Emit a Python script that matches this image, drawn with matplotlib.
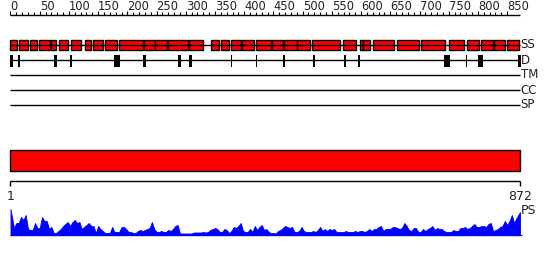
import numpy as np
import matplotlib.pyplot as plt

seq_len = 872

# secondary structure blocks (residue start / end)
ss_start = [1, 15, 35, 50, 71, 84, 104, 128, 143, 162, 187, 229, 249, 271, 307,
            344, 361, 379, 398, 422, 448, 469, 492, 517, 570, 599, 604, 622, 662,
            704, 752, 782, 807, 828, 851]
ss_end = [11, 30, 45, 68, 78, 99, 121, 138, 158, 182, 226, 248, 268, 304, 330,
          357, 374, 394, 416, 445, 466, 490, 512, 564, 591, 603, 616, 657, 699,
          744, 777, 802, 826, 846, 870]

# disorder marks
dis_start = [1, 13, 76, 102, 178, 228, 288, 307, 378, 421, 468, 518, 571, 595, 743, 780, 801, 869]
dis_end = [3, 15, 78, 104, 186, 230, 290, 309, 378, 421, 468, 520, 573, 597, 750, 780, 807, 872]

track_names = ['SS', 'D', 'TM', 'CC', 'SP']

# PS profile, one value every 4 residues
ps_score = [26, 7, 12, 12, 18, 15, 20, 6, 5, 5,
            12, 7, 7, 18, 14, 14, 6, 8, 2, 2,
            4, 6, 9, 11, 13, 9, 13, 15, 12, 13,
            6, 8, 10, 12, 9, 9, 2, 9, 6, 4,
            2, 2, 2, 8, 3, 3, 3, 8, 8, 6,
            3, 3, 2, 2, 4, 5, 4, 5, 6, 7,
            13, 6, 3, 3, 4, 3, 3, 5, 4, 6,
            9, 10, 1.5, 1.5, 1.5, 1.5, 1.5, 1.5, 2.5, 2.5,
            2.5, 2.5, 3, 2.5, 3, 5, 6, 7, 6, 3,
            3, 6, 5, 2, 4, 8, 7, 9, 12, 4,
            3, 3, 6, 3, 9, 5, 8, 10, 5, 6,
            3, 2, 2,
            1.5, 4, 5, 7, 9, 8, 7, 8, 3, 3,
            4, 8, 4, 3, 3, 3, 4, 3, 5, 8,
            4, 6, 4, 6, 5, 6, 3, 3, 3, 3,
            4, 3, 3, 3, 4, 3, 4, 4, 3, 4,
            6, 4, 6, 6, 8, 9, 4, 6, 6, 6,
            8, 8, 7, 6, 7, 12, 9, 5, 4, 7,
            7, 3, 3, 6, 4, 6, 7, 9, 5, 7,
            6, 6, 4, 3, 3, 3, 5, 4, 4, 7,
            7, 8, 6, 7, 9, 11, 8, 8, 9, 9,
            8, 11, 12, 4, 5, 6, 8, 9, 14, 10,
            14, 20, 12, 17, 23]

fig = plt.figure(figsize=(5.5, 2.6), dpi=100)
ax = fig.add_axes([0, 0, 1, 1])
scale = 509.5 / seq_len
ax.set_xlim(-10.5 / scale, 539.5 / scale)
ax.set_ylim(260, 0)
ax.axis('off')

txt = '#222222'

# ruler
ax.hlines(15, 0, seq_len, color='black', lw=1)
for v in range(0, 851, 10):
    top = 11 if v % 50 == 0 else 12
    ax.vlines(v, top, 15, color='black', lw=0.8)
for v in range(0, 851, 50):
    ax.text(v, 12.5, str(v), ha='left', va='bottom', fontsize=8.3, color=txt)

# SS track
ss_y = 45
ax.hlines(ss_y, 0, seq_len, color='black', lw=1)
s = np.array(ss_start) - 1
e = np.array(ss_end)
ax.bar(s, 10, width=e - s, bottom=ss_y - 5, align='edge',
       color='#ff0000', edgecolor='black', linewidth=1)

# D track
d_y = 60
ax.hlines(d_y, 0, seq_len, color='black', lw=1)
s = np.array(dis_start) - 1
e = np.array(dis_end)
ax.bar(s, 10.5, width=e - s, bottom=d_y - 5, align='edge',
       color='black', edgecolor='black', linewidth=0.4, antialiased=False,
       joinstyle='miter')

# TM, CC, SP empty lines
for y in [75, 90, 105]:
    ax.hlines(y, 0, seq_len, color='black', lw=1)

for name, y in zip(track_names, [45, 60, 75, 90, 105]):
    ax.text(seq_len + 1, y, name, ha='left', va='center', fontsize=8.5, color=txt)

# domain bar
ax.bar(0, 21, width=seq_len, bottom=150, align='edge',
       color='#ff0000', edgecolor='black', linewidth=1)

# bracket with sequence ends
ax.hlines(180.5, 0, seq_len, color='black', lw=1)
ax.vlines([0, seq_len], 180.5, 185.5, color='black', lw=1)
ax.text(0.5, 196, '1', ha='center', va='center', fontsize=9, color=txt)
ax.text(seq_len, 196, str(seq_len), ha='center', va='center', fontsize=9, color=txt)

# PS profile
pos = np.arange(len(ps_score)) * 4 + 2
pos[0] = 0
pos[-1] = seq_len
base = 235
ax.fill_between(pos, base, base - np.array(ps_score), color='#0000ff', lw=0.6)
ax.hlines(base, 0, seq_len + 3, color='#0000ff', lw=1)
ax.text(seq_len + 2, 210, 'PS', ha='left', va='center', fontsize=9, color=txt)

fig.savefig('out.png', dpi=100)
